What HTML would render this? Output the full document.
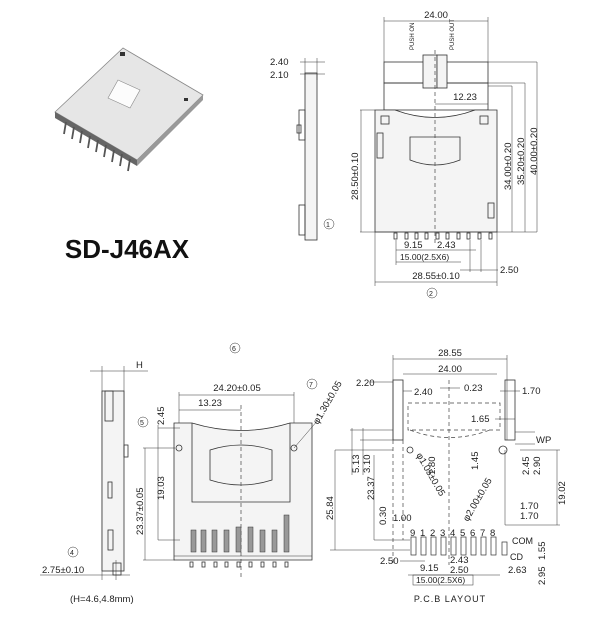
<!DOCTYPE html>
<html><head><meta charset="utf-8"><style>
html,body{margin:0;padding:0;background:#fff;}
svg{display:block;font-family:"Liberation Sans",sans-serif;}
text{fill:#222;font-size:9.5px;}
.l{stroke:#333;stroke-width:0.8;fill:none;}
.t{stroke:#333;stroke-width:0.5;fill:none;}
.d{stroke:#444;stroke-width:0.7;fill:none;stroke-dasharray:4,3;}
.b{stroke:#333;stroke-width:0.8;fill:#f4f4f4;}
</style></head><body>
<svg width="600" height="620" viewBox="0 0 600 620">
<!-- photo -->
<polygon points="123,48 203,95 137,160 55,112" fill="#e6e6e6" stroke="#888" stroke-width="0.8"/>
<polygon points="55,112 137,160 137,166 55,118" fill="#666"/>
<polygon points="137,160 203,95 203,100 137,166" fill="#999"/>
<polygon points="118,80 140,90 130,108 108,98" fill="#fcfcfc" stroke="#888" stroke-width="0.6"/>
<rect x="120" y="52" width="5" height="4" fill="#333"/>
<rect x="184" y="98" width="4" height="3" fill="#333"/>
<g stroke="#555" stroke-width="1.8">
<line x1="66" y1="122" x2="64" y2="134"/><line x1="74" y1="127" x2="72" y2="139"/><line x1="82" y1="131" x2="80" y2="143"/><line x1="90" y1="136" x2="88" y2="148"/><line x1="98" y1="140" x2="96" y2="152"/><line x1="106" y1="145" x2="104" y2="157"/><line x1="114" y1="150" x2="112" y2="162"/><line x1="122" y1="154" x2="120" y2="166"/><line x1="130" y1="159" x2="128" y2="171"/>
</g>
<text x="127" y="258" text-anchor="middle" style="font-size:26px;font-weight:bold;fill:#111">SD-J46AX</text>

<!-- side view 1 -->
<rect x="305" y="73" width="12" height="167" class="b"/>
<rect x="299" y="110" width="6" height="30" class="l"/>
<rect x="299" y="205" width="6" height="30" class="l"/>
<rect x="297" y="125" width="4" height="8" class="l"/>
<line x1="300" y1="62" x2="325" y2="62" class="t"/><line x1="300" y1="74" x2="325" y2="74" class="t"/>
<line x1="305" y1="58" x2="305" y2="80" class="t"/><line x1="317" y1="58" x2="317" y2="80" class="t"/>
<text x="270" y="65">2.40</text><text x="270" y="78">2.10</text>
<circle cx="329" cy="224" r="5" class="t"/><text x="326" y="227" style="font-size:7px">1</text>

<!-- top view -->
<line x1="384" y1="21" x2="488" y2="21" class="t"/><line x1="384" y1="17" x2="384" y2="62" class="t"/><line x1="488" y1="17" x2="488" y2="62" class="t"/>
<text x="436" y="18" text-anchor="middle">24.00</text>
<text transform="translate(414,50) rotate(-90)" style="font-size:6px">PUSH ON</text>
<text transform="translate(454,50) rotate(-90)" style="font-size:6px">PUSH OUT</text>
<rect x="384" y="62" width="104" height="21" class="l"/>
<rect x="384" y="83" width="104" height="27" class="l"/>
<rect x="423" y="55" width="14" height="33" class="b"/><rect x="437" y="55" width="10" height="33" class="b"/>
<path d="M375,110 L395,110 Q435,125 475,110 L497,110 L497,232 L375,232 Z" class="b"/>
<path d="M410,137 L460,137 L460,160 Q435,170 410,160 Z" class="l"/>
<rect x="381" y="116" width="8" height="8" class="l"/><rect x="480" y="116" width="8" height="8" class="l"/>
<rect x="377" y="133" width="6" height="25" class="l"/><rect x="488" y="203" width="6" height="15" class="l"/>
<line x1="435" y1="50" x2="435" y2="245" class="d"/>
<line x1="435" y1="104" x2="488" y2="104" class="t"/><text x="465" y="100" text-anchor="middle">12.23</text>
<line x1="360" y1="110" x2="375" y2="110" class="t"/><line x1="360" y1="232" x2="537" y2="232" class="t"/>
<line x1="361" y1="110" x2="361" y2="232" class="t"/>
<text transform="translate(358,200) rotate(-90)">28.50±0.10</text>
<line x1="488" y1="86" x2="512" y2="86" class="t"/><line x1="488" y1="83" x2="525" y2="83" class="t"/><line x1="488" y1="62" x2="537" y2="62" class="t"/>
<line x1="512" y1="86" x2="512" y2="232" class="t"/><line x1="525" y1="83" x2="525" y2="232" class="t"/><line x1="537" y1="62" x2="537" y2="232" class="t"/>
<text transform="translate(511,190) rotate(-90)">34.00±0.20</text>
<text transform="translate(524,185) rotate(-90)">35.20±0.20</text>
<text transform="translate(537,175) rotate(-90)">40.00±0.20</text>
<g class="l">
<rect x="394" y="233" width="3" height="6"/><rect x="405" y="233" width="3" height="6"/><rect x="415" y="233" width="3" height="6"/><rect x="425" y="233" width="3" height="6"/><rect x="436" y="233" width="3" height="6"/><rect x="446" y="233" width="3" height="6"/><rect x="457" y="233" width="3" height="6"/><rect x="467" y="233" width="3" height="6"/><rect x="478" y="233" width="3" height="6"/><rect x="489" y="233" width="3" height="6"/>
</g>
<line x1="396" y1="250" x2="476" y2="250" class="t"/><text x="404" y="248">9.15</text><text x="437" y="248">2.43</text>
<line x1="396" y1="262" x2="461" y2="262" class="t"/><line x1="396" y1="240" x2="396" y2="265" class="t"/>
<text x="400" y="260" style="font-size:8.5px">15.00(2.5X6)</text>
<line x1="470" y1="240" x2="470" y2="272" class="t"/><line x1="481" y1="240" x2="481" y2="272" class="t"/>
<line x1="460" y1="270" x2="498" y2="270" class="t"/><text x="500" y="273">2.50</text>
<line x1="375" y1="282" x2="497" y2="282" class="t"/><line x1="375" y1="232" x2="375" y2="286" class="t"/><line x1="497" y1="232" x2="497" y2="286" class="t"/>
<text x="436" y="279" text-anchor="middle">28.55±0.10</text>
<circle cx="432" cy="293" r="5" class="t"/><text x="429" y="296" style="font-size:7px">2</text>

<!-- bottom left side view -->
<circle cx="235" cy="348" r="5" class="t"/><text x="232" y="351" style="font-size:7px">6</text>
<line x1="90" y1="371" x2="148" y2="371" class="t"/><line x1="102" y1="366" x2="102" y2="580" class="t"/><line x1="124" y1="366" x2="124" y2="420" class="t"/>
<text x="136" y="368">H</text>
<rect x="102" y="391" width="22" height="180" class="b"/>
<rect x="105" y="391" width="8" height="30" class="l"/><rect x="124" y="445" width="4" height="12" class="l"/>
<rect x="108" y="482" width="4" height="16" class="l"/><rect x="108" y="530" width="5" height="20" class="l"/>
<rect x="113" y="563" width="8" height="12" class="l"/>
<circle cx="73" cy="552" r="5" class="t"/><text x="70" y="555" style="font-size:7px">4</text>
<line x1="40" y1="575" x2="130" y2="575" class="t"/><line x1="116" y1="560" x2="116" y2="580" class="t"/>
<text x="42" y="573">2.75±0.10</text>
<text x="70" y="602">(H=4.6,4.8mm)</text>

<!-- front view -->
<line x1="179" y1="395" x2="294" y2="395" class="t"/><text x="237" y="391" text-anchor="middle">24.20±0.05</text>
<line x1="179" y1="410" x2="241" y2="410" class="t"/><text x="210" y="406" text-anchor="middle">13.23</text>
<line x1="179" y1="392" x2="179" y2="425" class="t"/><line x1="294" y1="392" x2="294" y2="425" class="t"/>
<path d="M174,423 L192,423 Q241,438 290,423 L312,423 L312,560 L174,560 Z" class="b"/>
<path d="M192,423 L192,502 L290,502 L290,423" class="l"/>
<path d="M210,450 Q241,440 272,450 L272,480 Q241,490 210,480 Z" class="l"/>
<circle cx="179" cy="448" r="3" class="l"/><circle cx="294" cy="448" r="3" class="l"/>
<line x1="241" y1="405" x2="241" y2="580" class="d"/>
<g fill="#999" stroke="#333" stroke-width="0.5">
<rect x="191" y="530" width="5" height="22"/><rect x="201" y="530" width="5" height="22"/><rect x="212" y="530" width="5" height="22"/><rect x="224" y="530" width="5" height="22"/><rect x="236" y="527" width="5" height="25"/><rect x="248" y="527" width="5" height="25"/><rect x="260" y="530" width="5" height="22"/><rect x="272" y="530" width="5" height="22"/><rect x="284" y="515" width="5" height="37"/>
</g>
<line x1="174" y1="556" x2="312" y2="556" class="t"/>
<g class="l"><rect x="190" y="562" width="3" height="5"/><rect x="202" y="562" width="3" height="5"/><rect x="214" y="562" width="3" height="5"/><rect x="225" y="562" width="3" height="5"/><rect x="237" y="562" width="3" height="5"/><rect x="249" y="562" width="3" height="5"/><rect x="261" y="562" width="3" height="5"/><rect x="273" y="562" width="3" height="5"/><rect x="285" y="562" width="3" height="5"/></g>
<circle cx="143" cy="422" r="5" class="t"/><text x="140" y="425" style="font-size:7px">5</text>
<circle cx="312" cy="384" r="5" class="t"/><text x="309" y="387" style="font-size:7px">7</text>
<text transform="translate(318,425) rotate(-60)">φ1.30±0.05</text>
<line x1="294" y1="448" x2="318" y2="420" class="t"/>
<line x1="143" y1="448" x2="175" y2="448" class="t"/><line x1="143" y1="560" x2="175" y2="560" class="t"/>
<line x1="145" y1="448" x2="145" y2="560" class="t"/><text transform="translate(143,535) rotate(-90)">23.37±0.05</text>
<line x1="158" y1="428" x2="180" y2="428" class="t"/><line x1="158" y1="540" x2="180" y2="540" class="t"/>
<line x1="158" y1="425" x2="158" y2="540" class="t"/><text transform="translate(164,500) rotate(-90)">19.03</text>
<text transform="translate(164,425) rotate(-90)">2.45</text>

<!-- PCB layout -->
<line x1="393" y1="359" x2="507" y2="359" class="t"/><text x="450" y="356" text-anchor="middle">28.55</text>
<line x1="403" y1="374" x2="497" y2="374" class="t"/><text x="450" y="372" text-anchor="middle">24.00</text>
<line x1="393" y1="355" x2="393" y2="440" class="t"/><line x1="507" y1="355" x2="507" y2="440" class="t"/>
<rect x="393" y="380" width="10" height="60" class="l"/><rect x="505" y="380" width="10" height="60" class="l"/>
<rect x="408" y="403" width="92" height="27" class="d"/>
<path d="M410,430 Q449,445 490,430" class="d"/>
<line x1="449" y1="380" x2="449" y2="565" class="d"/>
<line x1="393" y1="440" x2="393" y2="565" class="d"/><line x1="403" y1="440" x2="403" y2="540" class="d"/>
<line x1="440" y1="388" x2="460" y2="388" class="t"/><text x="464" y="391">0.23</text>
<text x="356" y="386">2.20</text><text x="414" y="395">2.40</text>
<line x1="370" y1="382" x2="393" y2="382" class="t"/><line x1="403" y1="391" x2="412" y2="391" class="t"/>
<text x="522" y="394">1.70</text><line x1="500" y1="391" x2="520" y2="391" class="t"/>
<text x="471" y="422">1.65</text><line x1="495" y1="419" x2="515" y2="419" class="t"/>
<text x="536" y="443">WP</text>
<line x1="515" y1="432" x2="535" y2="432" class="t"/><line x1="515" y1="444" x2="535" y2="444" class="t"/>
<circle cx="410" cy="450" r="3" class="l"/><circle cx="503" cy="450" r="4" class="l"/>
<line x1="350" y1="430" x2="393" y2="430" class="t"/><line x1="360" y1="440" x2="393" y2="440" class="t"/>
<line x1="352" y1="428" x2="352" y2="475" class="t"/><line x1="363" y1="428" x2="363" y2="475" class="t"/>
<text transform="translate(359,473) rotate(-90)">5.13</text><text transform="translate(370,473) rotate(-90)">3.10</text>
<line x1="335" y1="450" x2="393" y2="450" class="t"/><line x1="335" y1="450" x2="335" y2="550" class="t"/>
<line x1="330" y1="550" x2="410" y2="550" class="t"/>
<text transform="translate(333,520) rotate(-90)">25.84</text>
<line x1="374" y1="455" x2="374" y2="540" class="t"/><line x1="374" y1="540" x2="410" y2="540" class="t"/>
<text transform="translate(374,500) rotate(-90)">23.37</text>
<text transform="translate(386,525) rotate(-90)">0.30</text><text x="393" y="521">1.00</text>
<text transform="translate(435,475) rotate(-90)">1.80</text>
<text transform="translate(416,455) rotate(60)">φ1.05±0.05</text>
<text transform="translate(468,522) rotate(-60)">φ2.00±0.05</text>
<text transform="translate(478,470) rotate(-90)">1.45</text>
<text transform="translate(529,475) rotate(-90)">2.45</text><text transform="translate(540,475) rotate(-90)">2.90</text>
<line x1="520" y1="450" x2="560" y2="450" class="t"/><line x1="557" y1="450" x2="557" y2="525" class="t"/>
<text transform="translate(565,505) rotate(-90)">19.02</text>
<line x1="505" y1="450" x2="505" y2="525" class="t"/><line x1="505" y1="525" x2="560" y2="525" class="t"/>
<text x="520" y="509">1.70</text><text x="520" y="519">1.70</text>
<g fill="#fff" stroke="#333" stroke-width="0.7">
<rect x="411" y="537" width="5" height="18"/><rect x="421" y="537" width="5" height="18"/><rect x="431" y="537" width="5" height="18"/><rect x="441" y="537" width="5" height="18"/><rect x="451" y="537" width="5" height="18"/><rect x="461" y="537" width="5" height="18"/><rect x="471" y="537" width="5" height="18"/><rect x="481" y="537" width="5" height="18"/><rect x="491" y="537" width="5" height="18"/><rect x="502" y="542" width="5" height="13"/>
</g>
<g style="font-size:7px"><text x="410" y="536">9</text><text x="420" y="536">1</text><text x="430" y="536">2</text><text x="440" y="536">3</text><text x="450" y="536">4</text><text x="460" y="536">5</text><text x="470" y="536">6</text><text x="480" y="536">7</text><text x="490" y="536">8</text></g>
<text x="512" y="544" style="font-size:9px">COM</text><text x="510" y="560" style="font-size:9px">CD</text>
<text transform="translate(545,560) rotate(-90)">1.55</text>
<text x="380" y="564">2.50</text><line x1="400" y1="561" x2="425" y2="561" class="t"/>
<text x="420" y="571">9.15</text><text x="450" y="563">2.43</text><text x="450" y="573">2.50</text>
<text x="508" y="573">2.63</text>
<text transform="translate(545,585) rotate(-90)">2.95</text>
<line x1="408" y1="575" x2="500" y2="575" class="t"/>
<rect x="413" y="575" width="60" height="10" class="t"/><text x="416" y="583" style="font-size:8.5px">15.00(2.5X6)</text>
<text x="450" y="602" text-anchor="middle" style="letter-spacing:1px;font-size:9px">P.C.B LAYOUT</text>
</svg>
</body></html>
